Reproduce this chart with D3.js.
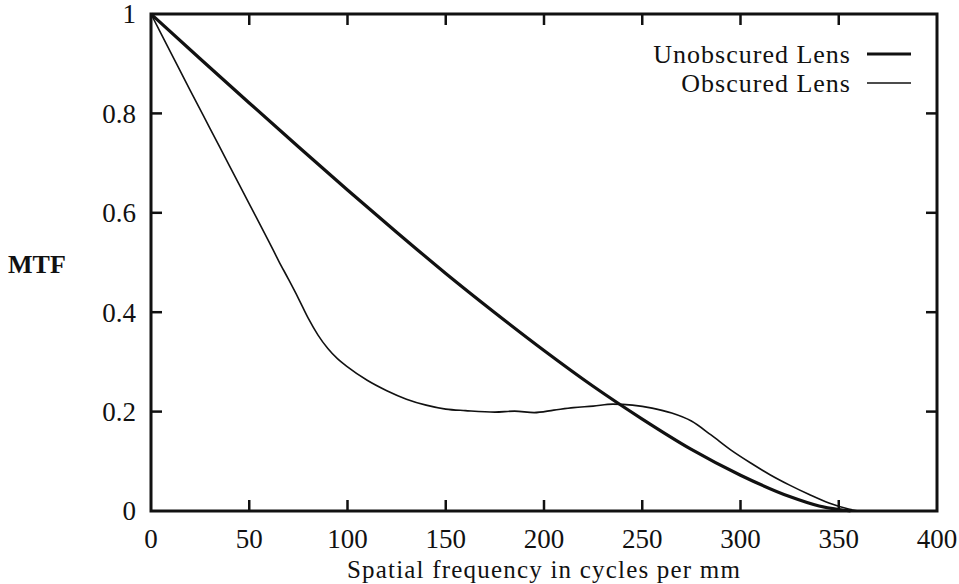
<!DOCTYPE html>
<html>
<head>
<meta charset="utf-8">
<script src="https://cdn.jsdelivr.net/npm/d3@7"></script>
<style>
  body { margin: 0; background: #fff; }
  svg text { font-family: "Liberation Serif", "DejaVu Serif", serif; fill: #111; }
</style>
</head>
<body>
<script>
// spatial frequency (cycles/mm) and MTF values
var unobscuredFreq = [0, 25, 50, 75, 100, 125, 150, 175, 200, 225, 250, 275, 300, 325, 340, 350, 356];
var unobscuredMtf  = [1.0, 0.910, 0.821, 0.733, 0.646, 0.561, 0.478, 0.399, 0.323, 0.251, 0.185, 0.124, 0.072, 0.029, 0.010, 0.003, 0];

var obscuredFreq = [0, 10, 20, 30, 40, 50, 60, 65, 70, 75, 80, 85, 90, 95, 100, 110, 120, 130, 140, 150, 160, 175, 185, 195, 205, 215, 225, 235, 245, 255, 265, 275, 285, 295, 305, 315, 325, 335, 345, 355, 360];
var obscuredMtf  = [1.0, 0.923, 0.846, 0.77, 0.694, 0.618, 0.542, 0.503, 0.466, 0.428, 0.388, 0.354, 0.327, 0.306, 0.29, 0.263, 0.242, 0.225, 0.213, 0.205, 0.202, 0.199, 0.201, 0.198, 0.203, 0.208, 0.211, 0.215, 0.213, 0.207, 0.197, 0.181, 0.153, 0.123, 0.097, 0.073, 0.052, 0.033, 0.016, 0.004, 0];

var xTicks = [0, 50, 100, 150, 200, 250, 300, 350, 400];
var yTicks = [0, 0.2, 0.4, 0.6, 0.8, 1];
var yTickLabels = ["0", "0.2", "0.4", "0.6", "0.8", "1"];

var legendNames = ["Unobscured Lens", "Obscured Lens"];

var width = 959,
    height = 584,
    margin = { top: 14, right: 22, bottom: 73, left: 151 };

var svg = d3.select("body").append("svg")
    .attr("width", width)
    .attr("height", height);

var x = d3.scaleLinear().domain([0, 400]).range([margin.left, width - margin.right]);
var y = d3.scaleLinear().domain([0, 1]).range([height - margin.bottom, margin.top]);

var tickLen = 11;

// frame
svg.append("rect")
    .attr("x", x(0))
    .attr("y", y(1))
    .attr("width", x(400) - x(0))
    .attr("height", y(0) - y(1))
    .attr("fill", "none")
    .attr("stroke", "#111")
    .attr("stroke-width", 3);

// inward ticks on all four sides
var ticks = svg.append("g").attr("stroke", "#111").attr("stroke-width", 2.5);
xTicks.slice(1, -1).forEach(function (t) {
    ticks.append("line").attr("x1", x(t)).attr("x2", x(t)).attr("y1", y(0)).attr("y2", y(0) - tickLen);
    ticks.append("line").attr("x1", x(t)).attr("x2", x(t)).attr("y1", y(1)).attr("y2", y(1) + tickLen);
});
yTicks.slice(1, -1).forEach(function (t) {
    ticks.append("line").attr("x1", x(0)).attr("x2", x(0) + tickLen).attr("y1", y(t)).attr("y2", y(t));
    ticks.append("line").attr("x1", x(400)).attr("x2", x(400) - tickLen).attr("y1", y(t)).attr("y2", y(t));
});

// tick labels
svg.append("g").selectAll("text")
    .data(xTicks)
    .enter().append("text")
    .attr("x", function (d) { return x(d); })
    .attr("y", y(0) + 37)
    .attr("text-anchor", "middle")
    .attr("font-size", 27)
    .text(function (d) { return d; });

svg.append("g").selectAll("text")
    .data(yTicks)
    .enter().append("text")
    .attr("x", x(0) - 15)
    .attr("y", function (d) { return y(d); })
    .attr("dy", "0.35em")
    .attr("text-anchor", "end")
    .attr("font-size", 27)
    .text(function (d, i) { return yTickLabels[i]; });

// axis titles
svg.append("text")
    .attr("x", (x(0) + x(400)) / 2)
    .attr("y", 578)
    .attr("text-anchor", "middle")
    .attr("font-size", 25)
    .attr("letter-spacing", 1.2)
    .text("Spatial frequency in cycles per mm");

svg.append("text")
    .attr("x", 8)
    .attr("y", 273)
    .attr("font-size", 26)
    .attr("font-weight", "bold")
    .text("MTF");

// curves
var line = d3.line()
    .x(function (d) { return x(d[0]); })
    .y(function (d) { return y(d[1]); })
    .curve(d3.curveMonotoneX);

svg.append("path")
    .datum(d3.zip(unobscuredFreq, unobscuredMtf))
    .attr("fill", "none")
    .attr("stroke", "#111")
    .attr("stroke-width", 3.2)
    .attr("d", line);

svg.append("path")
    .datum(d3.zip(obscuredFreq, obscuredMtf))
    .attr("fill", "none")
    .attr("stroke", "#111")
    .attr("stroke-width", 1.6)
    .attr("d", line);

// legend
var legend = svg.append("g");
legendNames.forEach(function (name, i) {
    var ly = 54 + i * 29;
    legend.append("text")
        .attr("x", 851)
        .attr("y", ly)
        .attr("dy", "0.35em")
        .attr("text-anchor", "end")
        .attr("font-size", 26)
        .attr("letter-spacing", 1)
        .text(name);
    legend.append("line")
        .attr("x1", 867).attr("x2", 911)
        .attr("y1", ly).attr("y2", ly)
        .attr("stroke", "#111")
        .attr("stroke-width", i === 0 ? 3.2 : 1.6);
});
</script>
</body>
</html>
